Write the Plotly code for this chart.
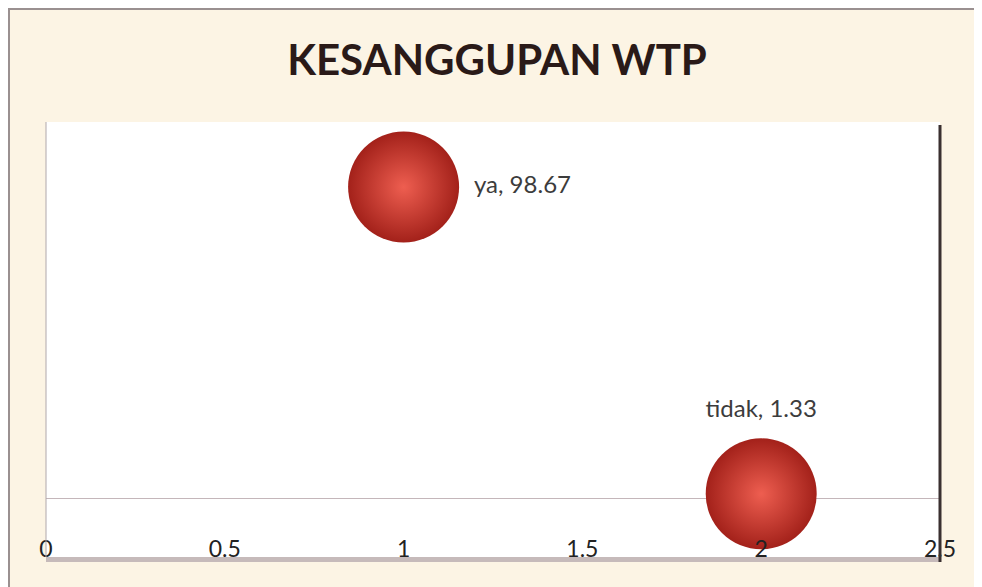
import plotly.graph_objects as go

categories = ["ya", "tidak"]
x_values = [1, 2]
y_values = [98.67, 1.33]
bubble_sizes = [1, 1]
x_tick_values = [0, 0.5, 1, 1.5, 2, 2.5]
x_tick_labels = ["0", "0.5", "1", "1.5", "2", "2.5"]
title_text = "KESANGGUPAN WTP"

labels = [f"{c}, {v}" for c, v in zip(categories, y_values)]

# page offset (browser body margin)
OFF = 8
W, H = 974, 579
L, T = 46 - OFF, 122 - OFF
R = W - (940 - OFF)
B = H - (533 - OFF)
pw, ph = W - L - R, H - T - B


def px_x(p):
    return (p - OFF - L) / pw


def px_y(p):
    return (H - B - (p - OFF)) / ph


fig = go.Figure()
fig.add_trace(go.Scatter(
    x=x_values, y=y_values,
    mode="markers+text",
    text=labels,
    textposition=["middle right", "top center"],
    textfont=dict(family="Lato, Carlito, sans-serif", size=24, color="#3c3c3c"),
    marker=dict(
        size=[111 * s for s in bubble_sizes],
        color="#a3211a",
        gradient=dict(type="radial", color="#ee5e50"),
        line=dict(width=0),
        opacity=1,
    ),
    cliponaxis=False,
    hoverinfo="skip",
    showlegend=False,
))

fig.update_layout(
    width=W, height=H,
    margin=dict(l=L, r=R, t=T, b=B, pad=0),
    paper_bgcolor="white",
    plot_bgcolor="white",
    title=dict(
        text=title_text,
        x=(497 - OFF) / W, xanchor="center", xref="container",
        y=1 - (60 - OFF) / H, yanchor="middle", yref="container",
        font=dict(family="Lato, Carlito, sans-serif", size=42, color="#2a1a18", weight="bold"),
    ),
    shapes=[
        dict(type="rect", xref="paper", yref="paper", layer="below",
             x0=px_x(9), x1=px_x(1000), y0=px_y(600), y1=px_y(9),
             fillcolor="#fcf4e4", line=dict(color="#9a9090", width=2)),
        dict(type="rect", xref="paper", yref="paper", layer="below",
             x0=0, x1=1, y0=px_y(557), y1=1,
             fillcolor="white", line=dict(width=0)),
        dict(type="rect", xref="paper", yref="paper", layer="below",
             x0=0, x1=1, y0=px_y(562), y1=px_y(557),
             fillcolor="#c6baba", line=dict(width=0)),
        dict(type="line", xref="paper", yref="paper", layer="above",
             x0=1, x1=1, y0=px_y(562), y1=px_y(125),
             line=dict(color="#3a3030", width=3)),
        dict(type="line", xref="paper", yref="paper", layer="above",
             x0=0, x1=0, y0=px_y(557), y1=1,
             line=dict(color="#b0a8ac", width=1)),
    ],
)

fig.update_xaxes(
    range=[0, 2.5],
    tickmode="array", tickvals=x_tick_values, ticktext=x_tick_labels,
    ticks="", showgrid=False, zeroline=False, showline=False,
    tickfont=dict(family="Lato, Carlito, sans-serif", size=23, color="#222222"),
)
fig.update_yaxes(
    range=[-11.1, 119.3],
    showticklabels=False, ticks="", showgrid=False,
    zeroline=True, zerolinecolor="#c4b6ba", zerolinewidth=1,
    showline=False,
)

fig.write_html("out.html")
